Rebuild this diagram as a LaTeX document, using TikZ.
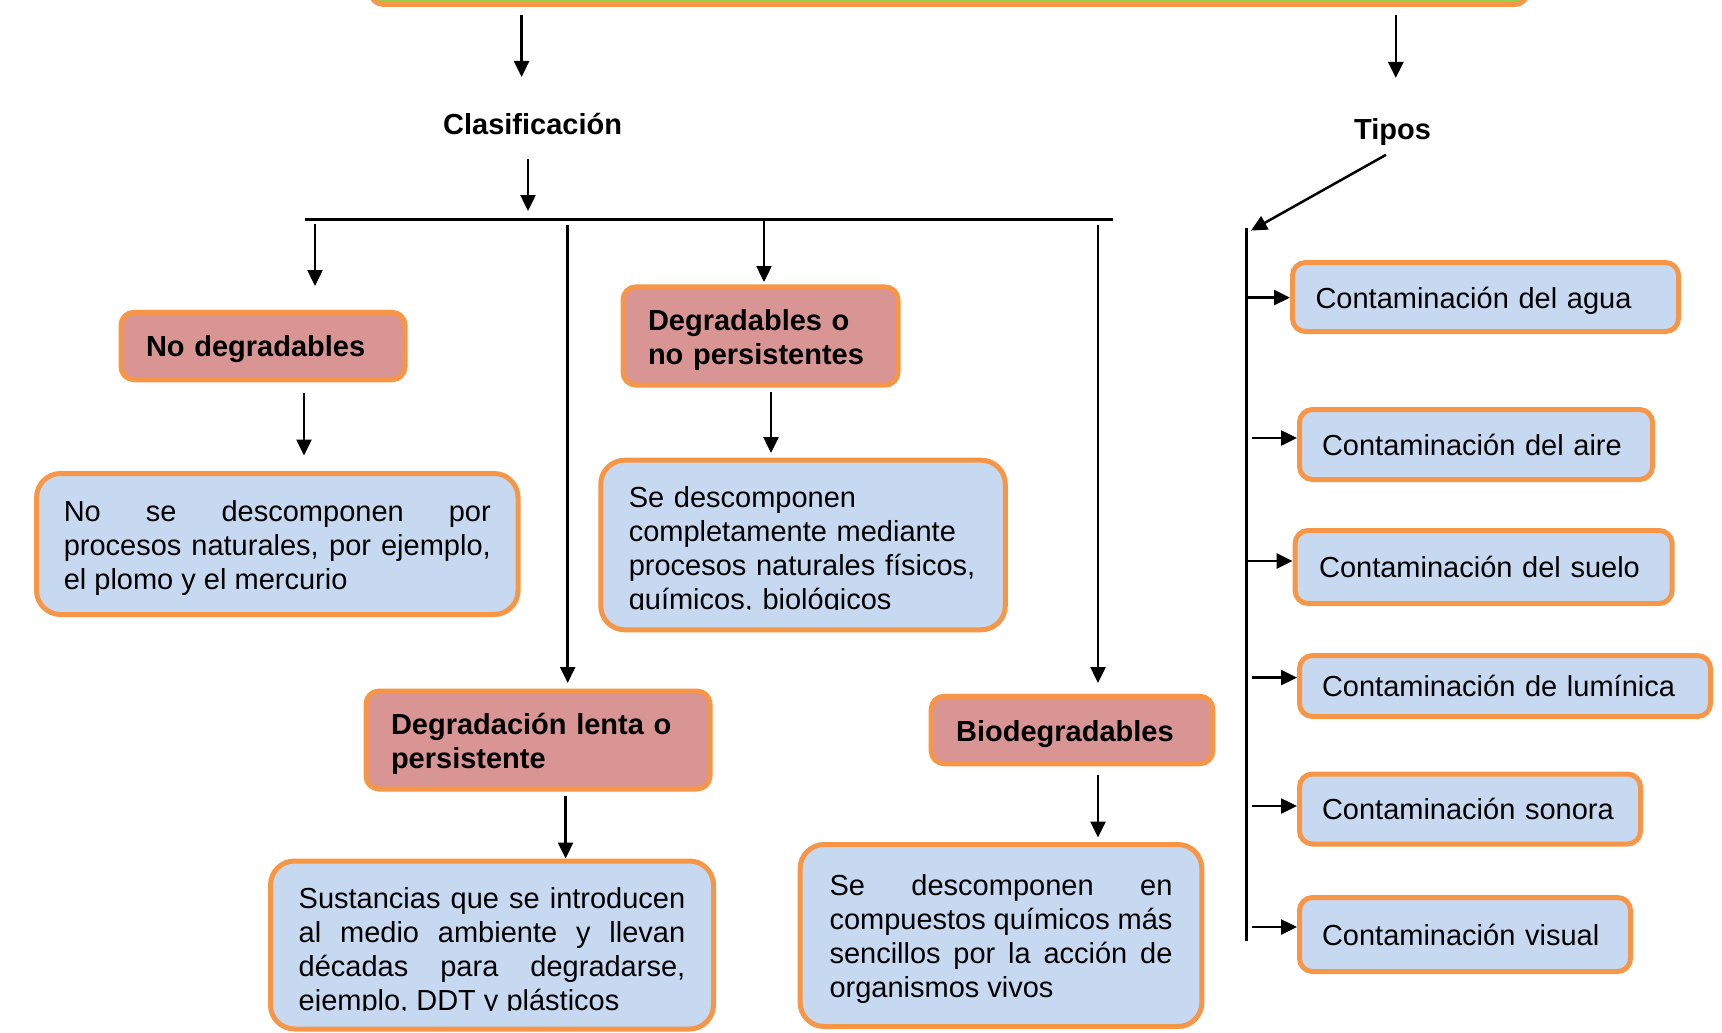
\documentclass[tikz,border=0pt]{standalone}
\usepackage{fontspec}
\setmainfont{Liberation Sans}
\usetikzlibrary{arrows.meta}
\definecolor{ogreen}{HTML}{92D050}
\definecolor{oorange}{HTML}{F79646}
\definecolor{opink}{HTML}{D99594}
\definecolor{oblue}{HTML}{C6D9F1}
\begin{document}
\begin{tikzpicture}[x=1pt,y=-1pt,
  basefont/.style={font=\fontsize{29}{34}\selectfont},
  box/.style={draw=oorange, line width=5pt, inner xsep=0pt, inner ysep=0pt, basefont},
  pinkbox/.style={box, fill=opink, rounded corners=13pt},
  bluebox/.style={box, fill=oblue, rounded corners=24pt},
  typebox/.style={box, fill=oblue, rounded corners=13pt, align=left},
  txt/.style={inner sep=0pt, basefont},
  btxt/.style={inner sep=0pt, align=left, font=\fontsize{29}{34}\selectfont\bfseries},
  lbl/.style={inner sep=0pt, font=\fontsize{29}{34}\selectfont\bfseries},
  arr/.style={line width=2.5pt, -{Triangle[length=16pt,width=15pt]}},
  ln/.style={line width=2.5pt}]
\clip (0,0) rectangle (1722,1033);
% top box
\node[box, fill=ogreen, rounded corners=13pt, minimum width=1157pt, minimum height=100pt, anchor=south] (top) at (949,7) {};
% labels
\node[lbl] (clas) at (532.6,124) {Clasificación};
\node[lbl] (tipos) at (1392.5,131.8) {Tipos};
% pink boxes
\node[pinkbox, minimum width=284pt, minimum height=67.5pt] (nd) at (263,346) {};
\node[btxt, text width=234pt] (ndt) at (263,349.5) {No degradables};
\node[pinkbox, minimum width=275pt, minimum height=98.3pt] (dg) at (760.5,336) {};
\node[btxt, text width=225pt] (dgt) at (760.5,340) {Degradables o\\no persistentes};
\node[pinkbox, minimum width=344pt, minimum height=98pt] (dl) at (538,740) {};
\node[btxt, text width=294pt] (dlt) at (538,743.5) {Degradación lenta o\\persistente};
\node[pinkbox, minimum width=281.7pt, minimum height=67.5pt] (bi) at (1072,730) {};
\node[btxt, text width=231.7pt] (bit) at (1072,734) {Biodegradables};
% blue description boxes
\node[bluebox, minimum width=481.5pt, minimum height=141pt] (ndd) at (277.3,544) {};
\node[txt, text width=427pt, align=justify] (nddt) at (277.3,547.5)
  {No se descomponen por\linebreak procesos naturales, por ejemplo,\linebreak el plomo y el mercurio};
\node[bluebox, minimum width=404.5pt, minimum height=169.6pt] (dgd) at (803,545) {};
\begin{scope}
  \clip (600,462) rectangle (1006,609.5);
  \node[txt, text width=348.5pt, align=left] (dgdt) at (803,550.5)
    {Se descomponen\\completamente mediante\\procesos naturales físicos,\\químicos, biológicos};
\end{scope}
\node[bluebox, minimum width=443pt, minimum height=168pt] (su) at (492,945) {};
\begin{scope}
  \clip (270,862) rectangle (714,1010);
  \node[txt, text width=386.6pt, align=justify] (sut) at (492,951.5)
    {Sustancias que se introducen\linebreak al medio ambiente y llevan\linebreak décadas para degradarse,\linebreak ejemplo, DDT y plásticos};
\end{scope}
\node[bluebox, minimum width=401.7pt, minimum height=182pt] (bid) at (1001,935.5) {};
\node[txt, text width=343pt, align=justify] (bidt) at (1001,939)
  {Se descomponen en\linebreak compuestos químicos más\linebreak sencillos por la acción de\linebreak organismos vivos};
% type boxes
\node[typebox, minimum width=386pt, minimum height=69pt] (t1) at (1485.5,297) {};
\node[txt, text width=340pt, align=left] (t1t) at (1485.5,300.5) {Contaminación del agua};
\node[typebox, minimum width=353pt, minimum height=70pt, text width=308pt] (t2) at (1476,444.5) {Contaminación del aire};
\node[typebox, minimum width=377pt, minimum height=73pt, text width=329pt] (t3) at (1483.6,567) {Contaminación del suelo};
\node[typebox, minimum width=411pt, minimum height=61pt, text width=366pt] (t4) at (1505,686) {Contaminación de lumínica};
\node[typebox, minimum width=341pt, minimum height=70pt, text width=296pt] (t5) at (1470,809) {Contaminación sonora};
\node[typebox, minimum width=331pt, minimum height=74pt, text width=286pt] (t6) at (1465,934.5) {Contaminación visual};
% coordinates
\coordinate (a1s) at (521.6,15);   \coordinate (a1e) at (521.6,77);
\coordinate (a2s) at (1395.8,15);  \coordinate (a2e) at (1395.8,78);
\coordinate (a3s) at (528,159);    \coordinate (a3e) at (528,211);
\coordinate (busL) at (305,219.6); \coordinate (busR) at (1112.5,219.6);
\coordinate (b1s) at (315,224);    \coordinate (b1e) at (315,286);
\coordinate (b2s) at (567.7,225);  \coordinate (b2e) at (567.7,683);
\coordinate (b3s) at (764,219.6);  \coordinate (b3e) at (764,282);
\coordinate (b4s) at (1098,225);   \coordinate (b4e) at (1098,683);
\coordinate (c1s) at (304,393);    \coordinate (c1e) at (304,455.5);
\coordinate (c2s) at (771,392);    \coordinate (c2e) at (771,453);
\coordinate (c3s) at (565.6,796);  \coordinate (c3e) at (565.6,858.5);
\coordinate (c4s) at (1098,775);   \coordinate (c4e) at (1098,837.5);
\coordinate (tps) at (1386,154.8); \coordinate (tpe) at (1251,230.6);
\coordinate (vt) at (1246.5,228.4); \coordinate (vb) at (1246.5,941);
\coordinate (r1s) at (1246.5,297.6);
\coordinate (r2s) at (1252,438);
\coordinate (r3s) at (1246.5,561);
\coordinate (r4s) at (1252,677.6);
\coordinate (r5s) at (1252,806);
\coordinate (r6s) at (1252,927);
% connectors
\draw[arr] (a1s) -- (a1e);
\draw[arr] (a2s) -- (a2e);
\draw[arr] (a3s) -- (a3e);
\draw[ln] (busL) -- (busR);
\draw[arr] (b1s) -- (b1e);
\draw[arr] (b2s) -- (b2e);
\draw[arr] (b3s) -- (b3e);
\draw[arr] (b4s) -- (b4e);
\draw[arr] (c1s) -- (c1e);
\draw[arr] (c2s) -- (c2e);
\draw[arr] (c3s) -- (c3e);
\draw[arr] (c4s) -- (c4e);
\draw[arr] (tps) -- (tpe);
\draw[ln] (vt) -- (vb);
\draw[arr] (r1s) -- (r1s -| t1.west);
\draw[arr] (r2s) -- (r2s -| t2.west);
\draw[arr] (r3s) -- (r3s -| t3.west);
\draw[arr] (r4s) -- (r4s -| t4.west);
\draw[arr] (r5s) -- (r5s -| t5.west);
\draw[arr] (r6s) -- (r6s -| t6.west);
\end{tikzpicture}
\end{document}
